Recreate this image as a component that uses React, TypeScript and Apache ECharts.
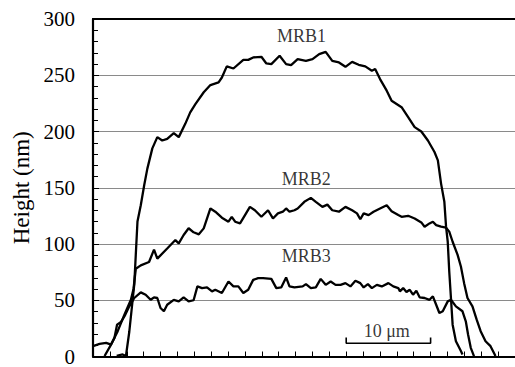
import React, { useEffect, useRef } from "react";
import * as echarts from "echarts";

const yTicks = [0, 50, 100, 150, 200, 250, 300];
const yAxisTitle = "Height (nm)";

const mrb1X = [2.81,3.28,3.51,3.90,4.30,4.89,5.27,5.66,6.06,6.44,7.03,7.62,8.20,8.79,9.57,10.16,10.93,11.52,12.15,13.12,13.91,14.88,15.27,15.85,16.64,17.81,18.39,18.98,19.95,20.54,21.13,22.11,22.88,23.47,24.25,25.23,26.01,26.80,27.57,28.35,29.14,29.91,30.70,31.48,32.26,33.04,33.43,34.01,34.80,35.38,36.56,37.34,38.11,38.90,39.68,40.46,40.86,41.24,41.63,41.83,42.03,42.21,42.41,42.61,43.00,43.59,43.78];
const mrb1Y = [0.5,1.5,1.8,0.4,22,64,120,134.5,152,167,185,195,192,193.5,198.6,195,206.8,217,224.5,234.9,241.3,243.7,248,257.9,256,263.7,263.7,265.8,266.4,260.5,259.9,267.3,259.9,259,264.3,262.8,264.3,268.8,270.8,262.8,261.4,257.5,261.9,259.3,257.9,254,255.5,246.6,236.3,227.4,221.6,212.7,203.9,200,192,181.8,174.3,153.7,137.5,115.4,102,75.6,52,28.3,13.6,4.8,1.8];

const mrb2X = [1.37,2.14,2.93,3.71,4.49,4.80,5.07,5.66,6.64,7.23,7.62,8.79,9.76,10.16,10.74,11.33,11.92,12.54,13.12,13.91,14.49,15.27,16.05,16.44,16.84,17.42,18.01,18.59,19.18,19.95,20.74,21.32,21.91,22.50,22.88,23.28,23.87,24.25,25.04,25.81,26.40,27.18,27.77,28.35,29.14,29.91,30.70,31.28,31.67,32.07,32.65,33.24,34.01,34.80,35.38,36.17,36.56,37.34,38.11,38.90,39.29,39.87,40.27,40.66,41.24,41.83,42.21,42.61,43.20,43.59,43.97,44.37,44.96,45.46,45.93,46.51,47.10,47.69];
const mrb2Y = [0.4,10.6,22.5,37,50.4,60,78,81,84,95,87,96,103.5,100.6,108,114,110.4,108.6,113.9,131.6,128.7,123.4,119.8,124.2,119.8,118.3,125.7,133,130,124.2,130,122.7,127.2,128.7,131.6,128.7,130,131.6,137.5,141,137.5,133,135,130,128.7,133,130,127.2,122,127.2,125.7,128.7,131.6,134.5,129.2,125.7,124.2,125.1,122.7,119.2,115.4,118.3,119.8,116.8,115.4,114.5,111,102,90.3,80,65.2,52,44.6,32.7,22.5,13.6,9.2,0.4];

const mrb3X = [0,0.78,1.56,2.14,2.54,2.85,3.32,3.75,4.30,4.89,5.66,6.24,6.83,7.23,7.62,8.00,8.40,8.79,9.57,10.16,10.74,11.33,11.92,12.37,12.92,13.51,14.10,14.49,15.27,16.05,16.64,17.22,17.81,18.39,18.98,19.57,20.15,21.13,21.72,22.30,22.88,23.28,23.87,24.84,25.23,25.81,26.40,26.98,27.57,28.16,28.74,29.33,29.91,30.50,31.09,31.67,32.07,32.57,33.04,33.63,34.22,35.00,35.58,36.17,36.36,36.75,37.14,37.53,37.92,38.31,38.70,39.29,39.87,40.27,40.66,41.04,41.44,42.03,42.41,43.00,43.78,44.17,44.44,44.76,45.14];
const mrb3Y = [9.2,11.2,12.1,10.6,16.5,28.3,30.7,36,44.6,52,57,54.9,50.4,52.6,52,43.1,40.2,46,50.4,49,52.6,49,50,62.3,60.8,61.4,57.9,59.3,56.4,66.7,62.3,62.3,56.4,59.3,68.1,69.6,69.6,69,60.8,61.4,70.3,62.3,61.4,62.3,64.3,60.8,61.4,69,63.7,66.7,63.7,63.7,65.2,62.3,67.3,65.2,61.4,64.3,60.8,63.7,62.3,65.2,62.3,60.8,57.9,60.8,57.3,59.3,54.9,58.4,52.6,52,50.4,53.5,46,38.7,40.2,49,50.4,44.6,40.2,31.3,19.5,7.7,0.4];

const seriesNames = ["MRB1", "MRB2", "MRB3"];
const labelX = [24.7, 25.28, 25.28];
const labelY = [284.6, 157.4, 89.4];

const scaleBarText = "10 μm";
const scaleBarX = [30, 30, 40, 40];
const scaleBarY = [16.8, 11.8, 11.8, 16.8];
const scaleTextPos = [34.8, 22.5];

const FONT = '"Liberation Serif", "Times New Roman", serif';

const zip = (xs: number[], ys: number[]) => xs.map((x, i) => [x, ys[i]]);

export default function App() {
  const ref = useRef<HTMLDivElement>(null);
  useEffect(() => {
    if (!ref.current) return;
    const chart = echarts.init(ref.current, undefined, { renderer: "svg" });
    const lineSeries = [
      [mrb1X, mrb1Y],
      [mrb2X, mrb2Y],
      [mrb3X, mrb3Y],
    ].map(([xs, ys], i) => ({
      type: "line",
      name: seriesNames[i],
      data: zip(xs, ys),
      showSymbol: false,
      symbol: "none",
      lineStyle: { color: "#000", width: 2.3 },
      z: 3,
    }));
    chart.setOption({
      animation: false,
      backgroundColor: "#fff",
      grid: { left: 93, top: 19, width: 427, bottom: 8 },
      xAxis: [
        {
          type: "value",
          min: 0,
          max: 50,
          interval: 2,
          position: "bottom",
          axisLine: { show: true, lineStyle: { color: "#000", width: 2.2 } },
          axisTick: { show: true, inside: true, length: 5, lineStyle: { color: "#000", width: 1 } },
          axisLabel: { show: false },
          splitLine: { show: false },
        },
        {
          type: "value",
          min: 0,
          max: 50,
          position: "top",
          axisLine: { show: true, lineStyle: { color: "#000", width: 2.2 } },
          axisTick: { show: false },
          axisLabel: { show: false },
          splitLine: { show: false },
        },
      ],
      yAxis: {
        type: "value",
        min: yTicks[0],
        max: yTicks[yTicks.length - 1],
        interval: 50,
        name: yAxisTitle,
        nameLocation: "middle",
        nameGap: 60,
        nameTextStyle: { fontFamily: FONT, fontSize: 23, color: "#000" },
        axisLine: { show: true, lineStyle: { color: "#000", width: 2.2 } },
        axisTick: { show: true, inside: true, length: 6, lineStyle: { color: "#000" } },
        minorTick: { show: true, splitNumber: 5, length: 5, lineStyle: { color: "#000" } },
        axisLabel: { fontFamily: FONT, fontSize: 21, color: "#000", margin: 18 },
        splitLine: { show: true, lineStyle: { color: "#8a8a8a", width: 1 } },
      },
      series: [
        ...lineSeries,
        {
          type: "line",
          data: zip(scaleBarX, scaleBarY),
          showSymbol: false,
          symbol: "none",
          lineStyle: { color: "#000", width: 1.6 },
          z: 3,
        },
        {
          type: "scatter",
          symbolSize: 1,
          itemStyle: { color: "rgba(0,0,0,0)" },
          data: [
            ...seriesNames.map((n, i) => ({ value: [labelX[i], labelY[i]], name: n })),
            { value: scaleTextPos, name: scaleBarText },
          ],
          label: {
            show: true,
            position: "inside",
            formatter: (p: any) => p.name,
            fontFamily: FONT,
            fontSize: 18,
            color: "#000",
          },
          z: 4,
        },
      ],
    });
    return () => chart.dispose();
  }, []);
  return (
    <div
      ref={ref}
      style={{ position: "fixed", left: 0, top: 0, width: 515, height: 367, background: "#fff" }}
    />
  );
}
